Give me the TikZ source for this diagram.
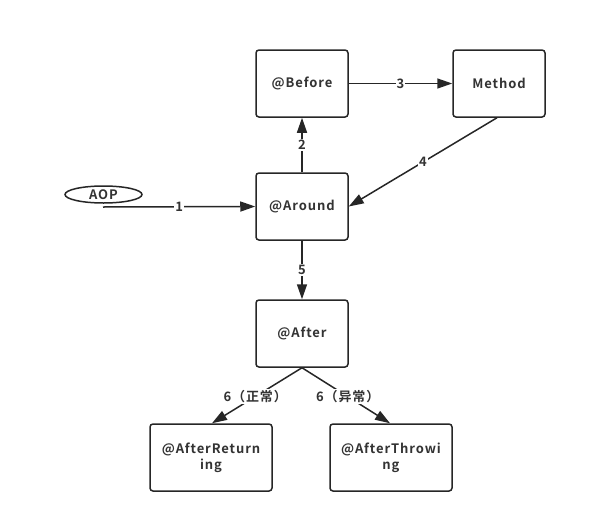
\documentclass[tikz,border=0pt]{standalone}
\usepackage{fontspec}
\setmainfont{Noto Sans CJK SC}[BoldFont={Noto Sans CJK SC Bold},LetterSpace=7]
\usetikzlibrary{arrows.meta,shapes.geometric}
\begin{document}
\begin{tikzpicture}[x=1pt,y=-1pt,
  box/.style={draw=black!85,line width=1.5pt,rounded corners=3pt,fill=white,
    minimum width=92pt,minimum height=67pt,align=center,
    font=\fontsize{13}{16}\selectfont\bfseries,text=black!80},
  widebox/.style={box,minimum width=122pt},
  oval/.style={draw=black!85,ellipse,line width=1.5pt,inner sep=0pt,
    minimum width=77pt,minimum height=17pt,font=\fontsize{13}{13}\selectfont\bfseries,text=black!80},
  link/.style={draw=black!85,line width=1.5pt,-{Triangle[length=15pt,width=10pt]}},
  tag/.style={fill=white,inner sep=1pt,font=\fontsize{13}{13}\selectfont\bfseries,text=black!80}]
\useasboundingbox (0,0) rectangle (590,520);

\node[box] (before) at (302,83.5) {@Before};
\node[box] (method) at (499,83.5) {Method};
\node[box] (around) at (302,206.5) {@Around};
\node[box] (after) at (302,333.5) {@After};
\node[widebox] (ret) at (211,457.5) {@AfterReturn\\ing};
\node[widebox] (thr) at (391,457.5) {@AfterThrowi\\ng};
\node[oval] (aop) at (103.5,194.5) {AOP};

\coordinate (aopfoot) at (103,207);
\draw[link] (aopfoot) -- node[tag] {1} (around.west);
\draw[link] (around.north) -- node[tag] {2} (before.south);
\draw[link] (before.east) -- node[tag] {3} (method.west);
\draw[link] ([xshift=-2pt]method.south) -- node[tag,pos=0.5] {4} (around.east);
\draw[link] (around.south) -- node[tag] {5} (after.north);
\draw[link] (after.south) -- node[tag,pos=0.52] {6（正常）} ([xshift=1pt]ret.north);
\draw[link] (after.south) -- node[tag,pos=0.52] {6（异常）} ([xshift=-1pt]thr.north);
\end{tikzpicture}
\end{document}
